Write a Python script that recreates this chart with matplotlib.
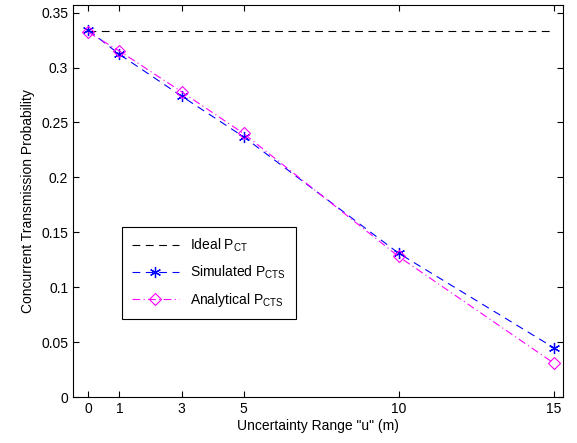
import numpy as np
import matplotlib
matplotlib.use("Agg")
import matplotlib.pyplot as plt

plt.rcParams['font.family'] = ['Liberation Sans', 'DejaVu Sans']
plt.rcParams['mathtext.default'] = 'regular'

u = [0, 1, 3, 5, 10, 15]
ideal = [0.3333] * 6
simulated = [0.334, 0.312, 0.274, 0.237, 0.131, 0.045]
analytical = [0.332, 0.315, 0.278, 0.240, 0.128, 0.031]

fig = plt.figure(figsize=(5.77, 4.43), dpi=100)
ax = fig.add_axes([0.1265, 0.1038, 0.849, 0.885])

# MATLAB style asterisk marker
asterisk = (6, 2, 0)

ax.plot(u, ideal, color='black', linestyle=(0, (7, 5)),
        linewidth=0.8, label='Ideal P$_{CT}$')
ax.plot(u, simulated, color='blue', linestyle=(0, (7, 5)), linewidth=0.8,
        marker=asterisk, markersize=8, markeredgewidth=0.9, label='Simulated P$_{CTS}$')
ax.plot(u, analytical, color='magenta', linestyle=(0, (7, 3, 1, 3)), linewidth=0.8,
        marker='D', markersize=6, markerfacecolor='none', markeredgewidth=0.8,
        label='Analytical P$_{CTS}$')

ax.set_xlim(-0.5, 15.3)
ax.set_ylim(0, 0.357)
ax.set_xticks(u)
ax.set_yticks(np.arange(0, 0.351, 0.05))
ax.set_yticklabels(['0', '0.05', '0.1', '0.15', '0.2', '0.25', '0.3', '0.35'])
ax.tick_params(direction='in', labelsize=10, length=4, top=True, right=True)
ax.set_xlabel('Uncertainty Range "u" (m)', fontsize=10, labelpad=2)
ax.set_ylabel('Concurrent Transmission Probability', fontsize=10)

leg = ax.legend(loc='lower left', bbox_to_anchor=(0.1, 0.2), fontsize=10,
                fancybox=False, edgecolor='black', framealpha=1, handlelength=3.4,
                borderpad=0.7, labelspacing=0.7, borderaxespad=0)
leg.get_frame().set_linewidth(0.8)

fig.savefig('out.png', dpi=100)
